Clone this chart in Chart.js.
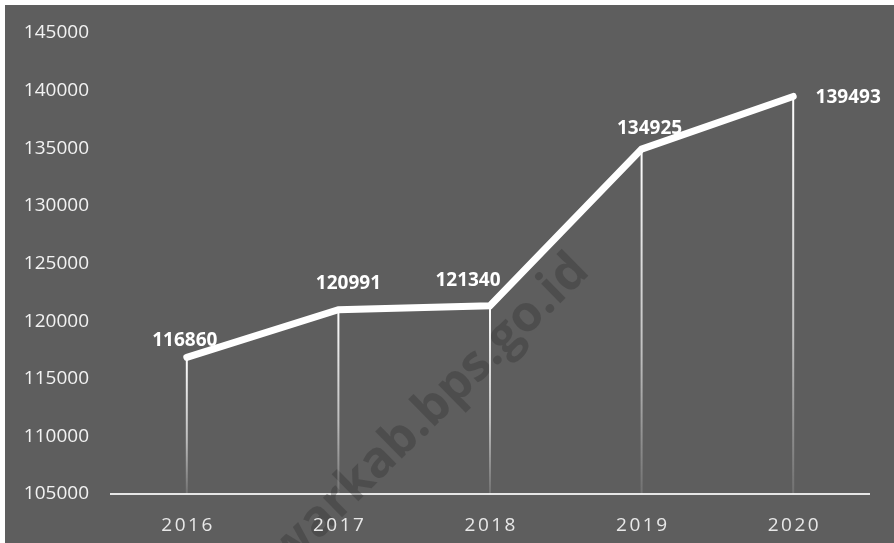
<!DOCTYPE html>
<html>
<head>
<meta charset="utf-8">
<script src="https://cdn.jsdelivr.net/npm/chart.js@4/dist/chart.umd.min.js"></script>
<style>
  html, body { margin: 0; padding: 0; background: #ffffff; }
  #wrap { position: absolute; left: 5px; top: 5px; width: 889px; height: 538px; background: #5e5e5e; }
  canvas { display: block; }
</style>
</head>
<body>
<div id="wrap"><canvas id="chart" width="889" height="538"></canvas></div>
<script>
// Chart data.
const years = ['2016', '2017', '2018', '2019', '2020'];
const values = [116860, 120991, 121340, 134925, 139493];
const yTicks = [105000, 110000, 115000, 120000, 125000, 130000, 135000, 140000, 145000];

// Offsets of the value labels relative to their point (dx, dy).
const labelShift = [[-2, -17], [10, -26], [-22, -25], [8, -21], [55, 1]];

const fontFamily = '"Open Sans", "Liberation Sans", sans-serif';

// Watermark behind the series.
const watermark = {
    id: 'watermark',
    beforeDatasetsDraw(chart) {
        const ctx = chart.ctx;
        ctx.save();
        ctx.translate(576, 258);
        ctx.rotate(-Math.PI / 4 + 0.01);
        ctx.font = 'bold 50px ' + fontFamily;
        ctx.fillStyle = 'rgba(40, 40, 40, 0.3)';
        ctx.textAlign = 'right';
        ctx.textBaseline = 'middle';
        ctx.fillText('warkab.bps.go.id', 0, 0);
        ctx.restore();
    }
};

// Vertical drop lines from each point to the axis, fading downwards.
const dropLines = {
    id: 'dropLines',
    beforeDatasetsDraw(chart) {
        const ctx = chart.ctx;
        const bottom = chart.chartArea.bottom;
        const meta = chart.getDatasetMeta(0);
        ctx.save();
        meta.data.forEach(point => {
            const grad = ctx.createLinearGradient(0, point.y, 0, bottom);
            grad.addColorStop(0, 'rgba(255,255,255,1)');
            grad.addColorStop(0.6, 'rgba(255,255,255,0.6)');
            grad.addColorStop(1, 'rgba(255,255,255,0.12)');
            ctx.strokeStyle = grad;
            ctx.lineWidth = 2;
            ctx.beginPath();
            ctx.moveTo(point.x, point.y);
            ctx.lineTo(point.x, bottom);
            ctx.stroke();
        });
        ctx.restore();
    }
};

// Value labels and spaced-out year labels.
const labelsPlugin = {
    id: 'labelsPlugin',
    afterDraw(chart) {
        const ctx = chart.ctx;
        const meta = chart.getDatasetMeta(0);
        ctx.save();
        ctx.font = 'bold 19px ' + fontFamily;
        ctx.fillStyle = '#ffffff';
        ctx.textAlign = 'center';
        ctx.textBaseline = 'middle';
        meta.data.forEach((point, i) => {
            const shift = labelShift[i];
            ctx.fillText(String(values[i]), point.x + shift[0], point.y + shift[1]);
        });

        const xScale = chart.scales.x;
        const spacing = 2.5;
        ctx.font = '19px ' + fontFamily;
        ctx.fillStyle = '#e8e8e8';
        ctx.textAlign = 'left';
        ctx.letterSpacing = spacing + 'px';
        years.forEach((year, i) => {
            const w = ctx.measureText(year).width - spacing;
            const x = xScale.getPixelForValue(i);
            ctx.fillText(year, x - w / 2, chart.chartArea.bottom + 32);
        });
        ctx.restore();
    }
};

new Chart(document.getElementById('chart'), {
    type: 'line',
    data: {
        labels: years,
        datasets: [{
            data: values,
            borderColor: '#ffffff',
            borderWidth: 7,
            borderCapStyle: 'round',
            borderJoinStyle: 'miter',
            pointRadius: 0,
            pointHoverRadius: 0,
            tension: 0,
            clip: false
        }]
    },
    options: {
        responsive: false,
        animation: false,
        events: [],
        layout: { padding: { top: 28, right: 25, bottom: 49, left: 0 } },
        plugins: {
            legend: { display: false },
            tooltip: { enabled: false }
        },
        scales: {
            x: {
                offset: true,
                grid: { display: false, drawTicks: false },
                border: { display: true, color: '#e6e6e6', width: 2 },
                ticks: { display: false }
            },
            y: {
                min: yTicks[0],
                max: yTicks[yTicks.length - 1],
                afterBuildTicks: scale => { scale.ticks = yTicks.map(v => ({ value: v })); },
                afterFit: scale => {
                    scale.width = 106;
                    scale.paddingTop = 0;
                    scale.paddingBottom = 0;
                },
                grid: { display: false, drawTicks: false },
                border: { display: false },
                ticks: {
                    color: '#f2f2f2',
                    padding: 22,
                    font: { family: fontFamily, size: 19 },
                    callback: value => String(value)
                }
            }
        }
    },
    plugins: [watermark, dropLines, labelsPlugin]
});
</script>
</body>
</html>
